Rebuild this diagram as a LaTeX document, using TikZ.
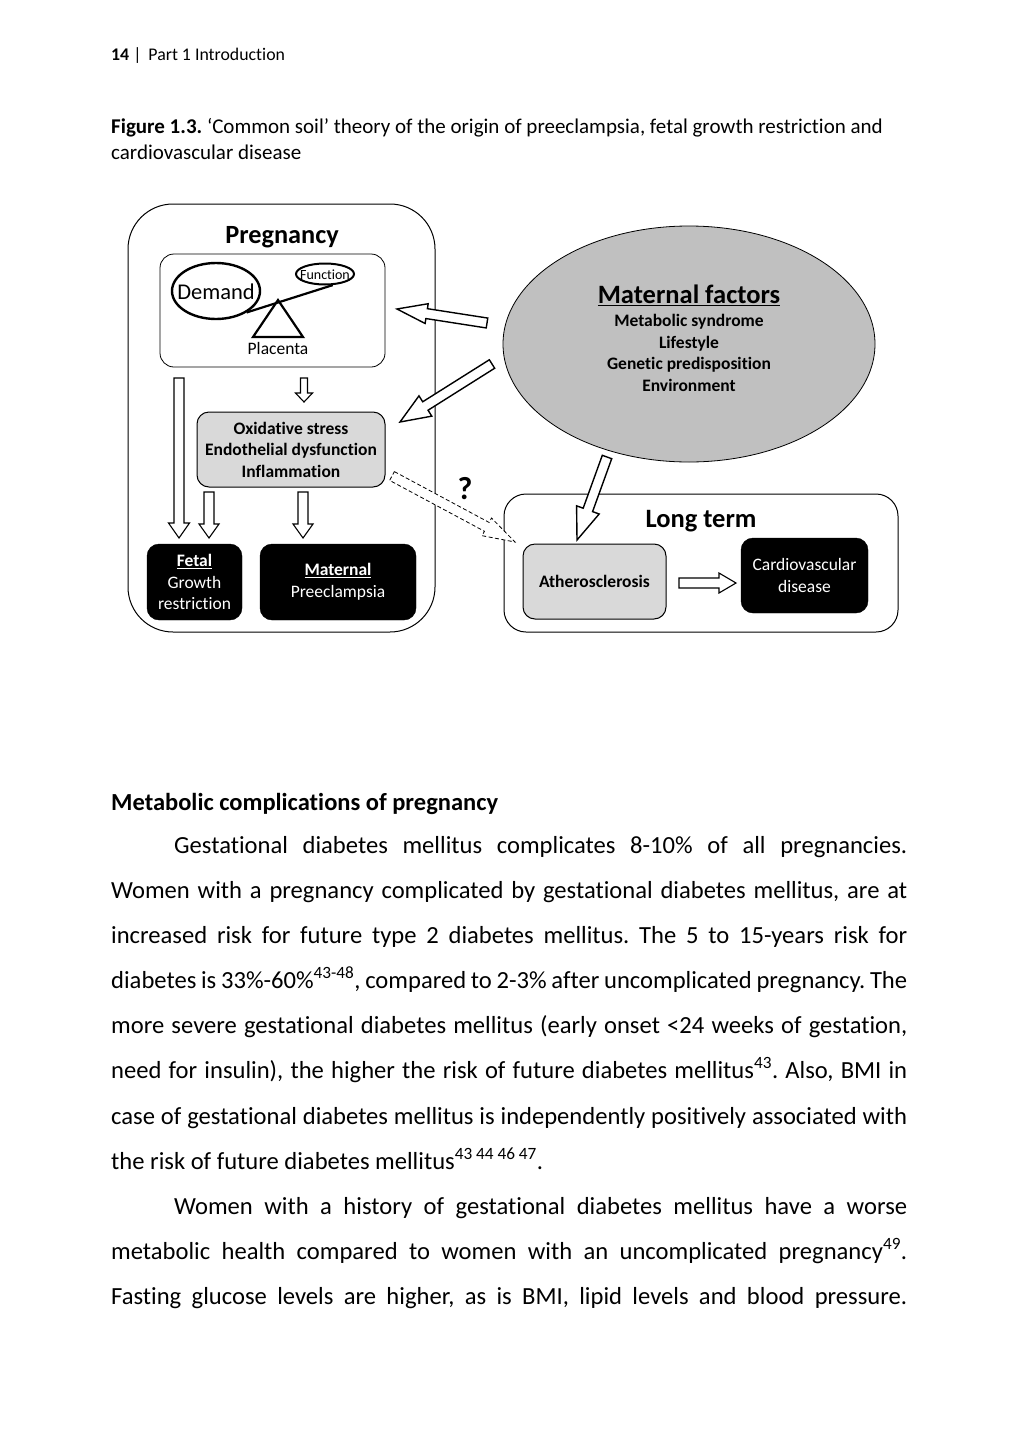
\documentclass[tikz,border=0pt]{standalone}
\usepackage{fontspec}
\setmainfont{Carlito}[Ligatures=NoCommon]
\usetikzlibrary{calc,shapes.geometric}
\definecolor{oxgray}{HTML}{D9D9D9}
\definecolor{mfgray}{HTML}{C0C0C0}
\frenchspacing
\newcommand{\blockarrow}[6][]{%
  \path (#2) coordinate (ba-s) (#3) coordinate (ba-t);
  \path ($(ba-t)!#6!(ba-s)$) coordinate (ba-h);
  \draw[barr,#1] ($(ba-s)!#4!90:(ba-t)$) -- ($(ba-h)!#4!-90:(ba-s)$) -- ($(ba-h)!#5!-90:(ba-s)$) -- (ba-t) -- ($(ba-h)!#5!90:(ba-s)$) -- ($(ba-h)!#4!90:(ba-s)$) -- ($(ba-s)!#4!-90:(ba-t)$) -- cycle;
}
\tikzset{
  every node/.style={inner sep=0pt},
  rbox/.style={draw, line width=1pt, rounded corners=#1},
  rbox/.default=12pt,
  blk/.style={fill=black, draw=black, rounded corners=12pt, text=white, align=center, font=\fontsize{17.5}{21.5}\selectfont},
  barr/.style={draw, fill=white, line width=1.4pt, line join=miter, miter limit=10},
  dbarr/.style={line width=0.8pt, dash pattern=on 4pt off 2.5pt},
  bodyl/.style={anchor=base west, font=\fontsize{24.6}{27}\selectfont},
}
\begin{document}
\begin{tikzpicture}[x=1pt,y=-1pt]
\fill[white] (0,0) rectangle (1020,1440);
\useasboundingbox (0,0) rectangle (1020,1440);

% header and caption
\node[anchor=base west, font=\fontsize{17.8}{20}\selectfont] (hdr) at (111,60) {\textbf{14} |\, Part 1 Introduction};
\node[anchor=base west, font=\fontsize{21}{26}\selectfont] (cap1) at (111,133) {\textbf{Figure 1.3.} ‘Common soil’ theory of the origin of preeclampsia, fetal growth restriction and};
\node[anchor=base west, font=\fontsize{21}{26}\selectfont] (cap2) at (111,159) {cardiovascular disease};

% Pregnancy block
\node[rbox=45pt, minimum width=307pt, minimum height=428pt] (preg) at (281.5,418) {};
\node[font=\fontsize{26.3}{30}\selectfont\bfseries] (pregt) at (282,237) {Pregnancy};
\node[rbox=14pt, line width=0.8pt, minimum width=225pt, minimum height=113pt] (plac) at (272.5,310.5) {};
\node[ellipse, draw, line width=2.4pt, minimum width=88pt, minimum height=56pt] (demand) at (216,291) {};
\node[font=\fontsize{22.5}{26}\selectfont] (demandt) at (216,292) {Demand};
\node[ellipse, draw, line width=2pt, minimum width=58pt, minimum height=21pt] (func) at (325,274) {};
\node[font=\fontsize{14}{16}\selectfont] (funct) at (325,274.5) {Function};
\draw[line width=2.2pt] (demand.-35) -- (func.-55);
\draw[line width=2.2pt, line join=miter] (278,300) coordinate (apex) -- (303,337) -- (253,337) -- cycle;
\node[font=\fontsize{17.5}{20}\selectfont] (plt) at (278,348) {Placenta};

\node[rbox=12pt, fill=oxgray, minimum width=188pt, minimum height=75pt, align=center, font=\fontsize{17.5}{21.5}\selectfont\bfseries] (ox) at (291,449.5) {Oxidative stress\\Endothelial dysfunction\\Inflammation};
\node[blk, minimum width=95pt, minimum height=76pt] (fetal) at (194.5,582) {\textbf{\underline{Fetal}}\\Growth\\restriction};
\node[blk, minimum width=156pt, minimum height=76pt] (mat) at (338,582) {\textbf{\underline{Maternal}}\\Preeclampsia};

% Maternal factors
\node[ellipse, draw, line width=0.8pt, fill=mfgray, minimum width=372pt, minimum height=236pt] (mf) at (689,344) {};
\node[font=\fontsize{26.5}{30}\selectfont\bfseries] (mft) at (689,295) {\underline{Maternal factors}};
\node[align=center, font=\fontsize{17.5}{21.5}\selectfont\bfseries] (mfl) at (689,353) {Metabolic syndrome\\Lifestyle\\Genetic predisposition\\Environment};

% Long term
\node[rbox=22pt, minimum width=394pt, minimum height=138pt] (lt) at (701,563) {};
\node[font=\fontsize{26.5}{30}\selectfont\bfseries] (ltt) at (701,521) {Long term};
\node[rbox=12pt, fill=oxgray, minimum width=143pt, minimum height=75pt, font=\fontsize{17.5}{20}\selectfont\bfseries] (ath) at (594.5,581.5) {Atherosclerosis};
\node[blk, minimum width=127pt, minimum height=75pt] (cvd) at (804.5,575.5) {Cardiovascular\\disease};
\node[font=\fontsize{32}{36}\selectfont\bfseries] (q) at (465,489) {?};

% arrow end points
\coordinate (a1s) at (487,323); \coordinate (a1t) at (397,309);
\coordinate (a2s) at (492,364); \coordinate (a2t) at (400,422);
\coordinate (a3s) at (607,457); \coordinate (a3t) at (577,540);
\coordinate (dds) at (392,476); \coordinate (ddt) at (515,542);
\coordinate (p1s) at (304,378); \coordinate (p1t) at (304,402);
\coordinate (l1s) at (179,378); \coordinate (l1t) at (179,538);
\coordinate (o1s) at (209,492); \coordinate (o1t) at (209,538);
\coordinate (o2s) at (303,492); \coordinate (o2t) at (303,538);
\coordinate (hs) at (679,583); \coordinate (ht) at (736,583);

\blockarrow{a1s}{a1t}{5pt}{10pt}{30pt}
\blockarrow{a2s}{a2t}{5pt}{12pt}{30pt}
\blockarrow{a3s}{a3t}{5pt}{12pt}{32pt}
\blockarrow[dbarr]{dds}{ddt}{5pt}{10pt}{32pt}
\blockarrow[line width=1.1pt]{p1s}{p1t}{3.5pt}{8.5pt}{9pt}
\blockarrow[line width=1.1pt]{l1s}{l1t}{5pt}{10.5pt}{15pt}
\blockarrow[line width=1.1pt]{o1s}{o1t}{5pt}{10pt}{14pt}
\blockarrow[line width=1.1pt]{o2s}{o2t}{5pt}{10pt}{14pt}
\blockarrow[line width=1.1pt]{hs}{ht}{5pt}{10pt}{17pt}

% body text
\node[anchor=base west, font=\fontsize{24.5}{27}\selectfont\bfseries] (h2) at (111,810) {Metabolic complications of pregnancy};
\node[bodyl] (b1) at (174,853) {\makebox[733pt][s]{Gestational diabetes mellitus complicates 8-10\% of all pregnancies.}};
\node[bodyl] (b2) at (111,898) {\makebox[796pt][s]{Women with a pregnancy complicated by gestational diabetes mellitus, are at}};
\node[bodyl] (b3) at (111,943) {\makebox[796pt][s]{increased risk for future type 2 diabetes mellitus. The 5 to 15-years risk for}};
\node[bodyl] (b4) at (111,988) {\makebox[796pt][s]{diabetes is 33\%-60\%\textsuperscript{43-48}, compared to 2-3\% after uncomplicated pregnancy. The}};
\node[bodyl] (b5) at (111,1033) {\makebox[796pt][s]{more severe gestational diabetes mellitus (early onset <24 weeks of gestation,}};
\node[bodyl] (b6) at (111,1078) {\makebox[796pt][s]{need for insulin), the higher the risk of future diabetes mellitus\textsuperscript{43}. Also, BMI in}};
\node[bodyl] (b7) at (111,1124) {\makebox[796pt][s]{case of gestational diabetes mellitus is independently positively associated with}};
\node[bodyl] (b8) at (111,1169) {the risk of future diabetes mellitus\textsuperscript{43 44 46 47}.};
\node[bodyl] (b9) at (174,1214) {\makebox[733pt][s]{Women with a history of gestational diabetes mellitus have a worse}};
\node[bodyl] (b10) at (111,1259) {\makebox[796pt][s]{metabolic health compared to women with an uncomplicated pregnancy\textsuperscript{49}.}};
\node[bodyl] (b11) at (111,1304) {\makebox[796pt][s]{Fasting glucose levels are higher, as is BMI, lipid levels and blood pressure.}};
\end{tikzpicture}
\end{document}
